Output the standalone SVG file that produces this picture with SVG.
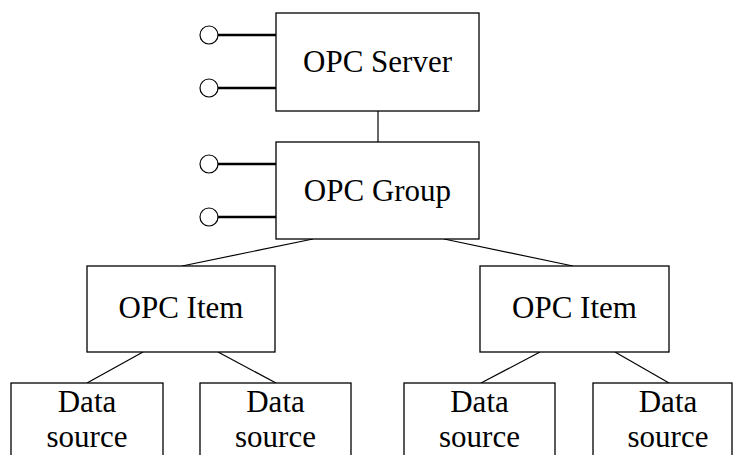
<svg xmlns="http://www.w3.org/2000/svg" width="734" height="455" viewBox="0 0 734 455">
  <style>
    .box { fill: #fff; stroke: #000; stroke-width: 1.3; }
    .lbl { font-family: "Liberation Serif", "Times New Roman", serif; font-size: 31px; fill: #000; text-anchor: middle; }
    .link { stroke: #000; stroke-width: 1.2; fill: none; }
    .stub { stroke: #000; stroke-width: 2.5; }
    .port { fill: #fff; stroke: #000; stroke-width: 1.2; }
  </style>
  <rect width="734" height="455" fill="#fff"/>

  <g id="connectors">
    <line class="link" x1="378" y1="111" x2="378" y2="142"/>
    <line class="link" x1="313" y1="239" x2="182" y2="266"/>
    <line class="link" x1="444" y1="239" x2="573" y2="266"/>
    <line class="link" x1="143" y1="352" x2="87" y2="383"/>
    <line class="link" x1="218" y1="352" x2="276" y2="383"/>
    <line class="link" x1="540" y1="352" x2="481" y2="383"/>
    <line class="link" x1="615" y1="352" x2="669" y2="383"/>
  </g>

  <g id="server">
    <line class="stub" x1="218" y1="35" x2="276" y2="35"/>
    <line class="stub" x1="218" y1="88" x2="276" y2="88"/>
    <circle class="port" cx="209" cy="35" r="9"/>
    <circle class="port" cx="209" cy="88" r="9"/>
    <rect class="box" x="276" y="13" width="203" height="98"/>
    <text class="lbl" x="377.5" y="72">OPC Server</text>
  </g>

  <g id="group">
    <line class="stub" x1="218" y1="164" x2="276" y2="164"/>
    <line class="stub" x1="218" y1="217" x2="276" y2="217"/>
    <circle class="port" cx="209" cy="164" r="9"/>
    <circle class="port" cx="209" cy="217" r="9"/>
    <rect class="box" x="276" y="142" width="203" height="97"/>
    <text class="lbl" x="377.5" y="201">OPC Group</text>
  </g>

  <g id="item-left">
    <rect class="box" x="87" y="266" width="188" height="86"/>
    <text class="lbl" x="181" y="318">OPC Item</text>
  </g>

  <g id="item-right">
    <rect class="box" x="480" y="266" width="189" height="86"/>
    <text class="lbl" x="574.5" y="318">OPC Item</text>
  </g>

  <g id="source-1">
    <rect class="box" x="11" y="383" width="152" height="80"/>
    <text class="lbl" x="87" y="412">Data</text>
    <text class="lbl" x="87" y="447">source</text>
  </g>

  <g id="source-2">
    <rect class="box" x="200" y="383" width="151" height="80"/>
    <text class="lbl" x="275.5" y="412">Data</text>
    <text class="lbl" x="275.5" y="447">source</text>
  </g>

  <g id="source-3">
    <rect class="box" x="404" y="383" width="151" height="80"/>
    <text class="lbl" x="479.5" y="412">Data</text>
    <text class="lbl" x="479.5" y="447">source</text>
  </g>

  <g id="source-4">
    <rect class="box" x="593" y="383" width="139" height="80"/>
    <text class="lbl" x="668" y="412">Data</text>
    <text class="lbl" x="668" y="447">source</text>
  </g>
</svg>
